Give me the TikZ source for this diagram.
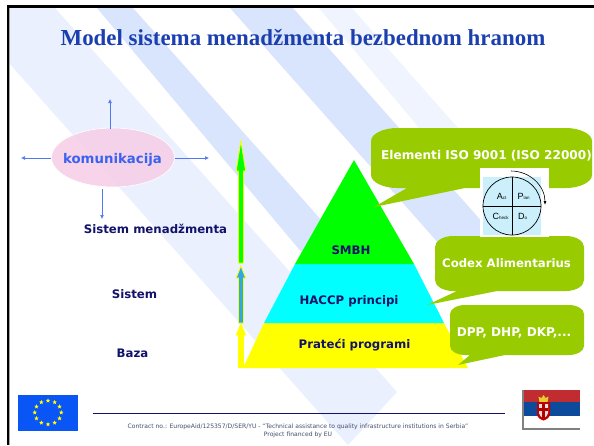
\documentclass[tikz,border=0pt]{standalone}
\usepackage{fontspec}
\setmainfont{Liberation Serif}
\newfontfamily\vfont{DejaVu Sans}
\newfontfamily\afont{Liberation Sans}
\usetikzlibrary{shapes.geometric,arrows.meta}
\definecolor{pale}{HTML}{EAF0FD}
\definecolor{paler}{HTML}{F0F4FE}
\definecolor{stripe}{HTML}{D9E5FC}
\definecolor{titleblue}{HTML}{1B3FAF}
\definecolor{navy}{HTML}{12126B}
\definecolor{kblue}{HTML}{3A62F0}
\definecolor{arrowblue}{HTML}{5078F0}
\definecolor{callgreen}{HTML}{99CC00}
\definecolor{pinkfill}{HTML}{F6CDE6}
\definecolor{pgreen}{HTML}{00FF00}
\definecolor{pcyan}{HTML}{00FFFF}
\definecolor{pyellow}{HTML}{FFFF00}
\definecolor{midblue}{HTML}{2FA8E8}
\definecolor{eublue}{HTML}{0A55F5}
\definecolor{srbred}{HTML}{C02C30}
\definecolor{srbblue}{HTML}{0C4B9B}
\definecolor{footgray}{HTML}{44506E}
\newcommand{\fsz}[1]{\fontsize{#1}{#1}\selectfont}
\tikzset{
  navylabel/.style={font=\vfont\bfseries\fsz{11.75},text=navy,inner sep=0pt},
  calltext/.style={font=\vfont\bfseries\fsz{12.1},text=white,inner sep=0pt},
  callshape/.style={fill=callgreen},
  commarrow/.style={draw=arrowblue,line width=0.7pt,-{Latex[length=4pt,width=4pt]}},
  pdcabig/.style={font=\afont\fsz{9},text=black,inner sep=0pt},
  eustar/.style={star,star points=5,star point ratio=2.2,fill=pyellow,inner sep=0pt,minimum size=4.6pt},
  upoutline/.style={draw=pyellow,line width=0.8pt,line join=miter},
  footnote/.style={font=\vfont\fsz{6.05},text=footgray,inner sep=0pt},
}
\newcommand{\sm}[1]{{\fsz{4.5}#1}}
\begin{document}
\begin{tikzpicture}[x=1pt,y=-1pt]
\useasboundingbox (0,0) rectangle (594,445);
\fill[white] (0,0) rectangle (594,445);
% stripes
\fill[pale] (9,8) -- (55,8) -- (397,392) -- (348,445) -- (9,63) -- cycle;
\fill[stripe] (97,8) -- (133,8) -- (410,320) -- (375,340) -- cycle;
\fill[stripe] (230,8) -- (293,8) -- (530,276) -- (480,290) -- cycle;
\fill[paler] (319,8) -- (352,8) -- (480,153) -- (440,153) -- cycle;
% frame
\fill[black] (7,5) rectangle (594,7.6);
\fill[black] (7,5) rectangle (9,445);
\fill[gray!70] (9,7.6) rectangle (9.8,445);
% title
\node[font=\bfseries\fsz{22.9},text=titleblue,inner sep=0pt] (title) at (303,37.5) {Model sistema menadžmenta bezbednom hranom};
% communication
\node[ellipse,draw=white,line width=0.6pt,fill=pinkfill,fill opacity=0.85,minimum width=123pt,minimum height=59pt,inner sep=0pt] (kom) at (113,157.5) {};
\node[font=\vfont\bfseries\fsz{13.3},text=kblue,inner sep=0pt] (komtext) at (112.5,159.5) {komunikacija};
\coordinate (upA) at (110,128.5);
\coordinate (upB) at (110,99);
\coordinate (dnA) at (102,189);
\coordinate (dnB) at (102,219);
\coordinate (ltB) at (21,158);
\coordinate (rtB) at (209,158);
\draw[commarrow] (upA) -- (upB);
\draw[commarrow] (dnA) -- (dnB);
\draw[commarrow] (kom.west |- ltB) -- (ltB);
\draw[commarrow] (kom.east |- rtB) -- (rtB);
% left labels
\node[navylabel] (lblA) at (155.5,229) {Sistem menadžmenta};
\node[navylabel] (lblB) at (134.5,294) {Sistem};
\node[navylabel] (lblC) at (132.5,353) {Baza};
% stacked arrows
\filldraw[fill=pgreen,upoutline] (240.9,141) -- (245.6,171) -- (243.4,171) -- (243.4,263) -- (238.4,263) -- (238.4,171) -- (236.2,171) -- cycle;
\filldraw[fill=midblue,upoutline] (240.9,266) -- (245.6,278) -- (243.4,278) -- (243.4,323) -- (238.4,323) -- (238.4,278) -- (236.2,278) -- cycle;
\filldraw[fill=pyellow,upoutline] (240.9,324) -- (245.6,335) -- (243.4,335) -- (243.4,367.5) -- (238.4,367.5) -- (238.4,335) -- (236.2,335) -- cycle;
% pyramid
\fill[pyellow] (264,323) -- (444,323) -- (468,368) -- (243,368) -- cycle;
\fill[pcyan] (295,264) -- (414,264) -- (444,323) -- (264,323) -- cycle;
\fill[pgreen] (354,160) -- (414,264) -- (295,264) -- cycle;
\node[navylabel] (smbh) at (351,250) {SMBH};
\node[navylabel] (haccp) at (349,301) {HACCP principi};
\node[navylabel] (prat) at (354.5,345) {Prateći programi};
% callouts
\fill[callshape] (371,141) .. controls (371,134) and (383,128) .. (397,128) -- (566,128) .. controls (580,128) and (592,134) .. (592,141) -- (592,175) .. controls (592,182) and (580,188) .. (566,188) -- (465,188) -- (374,207) -- (407,188) -- (397,188) .. controls (383,188) and (371,182) .. (371,175) -- cycle;
\node[calltext] (c1) at (486.5,156) {Elementi ISO 9001 (ISO 22000)};
\fill[callshape] (435,247) .. controls (435,241) and (443,236) .. (453,236) -- (566,236) .. controls (576,236) and (584,241) .. (584,247) -- (584,280) .. controls (584,286) and (576,291) .. (566,291) -- (497,291) -- (427,305) -- (457,291) -- (453,291) .. controls (443,291) and (435,286) .. (435,280) -- cycle;
\node[calltext,font=\vfont\bfseries\fsz{11.7}] (c2) at (506.5,263) {Codex Alimentarius};
\fill[callshape] (450,314) .. controls (450,309) and (457,305) .. (465,305) -- (569,305) .. controls (577,305) and (584,309) .. (584,314) -- (584,346) .. controls (584,351) and (577,355) .. (569,355) -- (505,355) -- (458,365) -- (470,355) -- (465,355) .. controls (457,355) and (450,351) .. (450,346) -- cycle;
\node[calltext] (c3) at (514,332.5) {DPP, DHP, DKP,...};
% PDCA
\fill[white] (480,168) rectangle (549,237);
\fill[cyan!20] (483,177) rectangle (541,235);
\node[circle,draw=black,line width=0.7pt,minimum size=58pt,inner sep=0pt] (pdca) at (512,206) {};
\draw[black,line width=0.7pt] (pdca.north) -- (pdca.south);
\draw[black,line width=0.7pt] (pdca.west) -- (pdca.east);
\coordinate (cycA) at (511,171);
\coordinate (cycB) at (545,205);
\draw[black,line width=0.6pt,-{Latex[length=4pt,width=3pt]}] (cycA) .. controls (530,171) and (545,186) .. (cycB);
\node[pdcabig] (act) at (501.5,196) {A\sm{ct}};
\node[pdcabig] (plan) at (523.5,196) {P\sm{lan}};
\node[pdcabig] (check) at (500.5,216) {C\sm{heck}};
\node[pdcabig] (do) at (522.5,216) {D\sm{o}};
% footer
\coordinate (ruleA) at (93,413);
\coordinate (ruleB) at (505,413);
\draw[navy,line width=0.8pt] (ruleA) -- (ruleB);
\node[footnote] (foot1) at (298,427) {Contract no.: EuropeAid/125357/D/SER/YU - “Technical assistance to quality infrastructure institutions in Serbia”};
\node[footnote] (foot2) at (298,435) {Project financed by EU};
% EU flag
\fill[eublue] (18,395) rectangle (78,431);
\foreach \a in {0,30,...,330}{
  \node[eustar] (eu\a) at ({48+13.3*cos(\a)},{412.5+11.8*sin(\a)}) {};
}
% Serbian flag
\fill[white] (522,390) rectangle (580,430);
\fill[srbred] (522,390) rectangle (580,402);
\fill[srbblue] (522,402) rectangle (580,416);
\fill[black!50] (522,390) rectangle (523.5,430);
\fill[black!50] (522,428.3) rectangle (580,430);
\fill[yellow!60!brown] (539.5,402) -- (538.5,396.5) -- (541.5,398) -- (543.5,395) -- (545.5,398) -- (548.5,396.5) -- (547.5,402) -- cycle;
\fill[red!75!black] (537,402) -- (550,402) -- (550,414) .. controls (550,418) and (546,419.5) .. (543.5,420.5) .. controls (541,419.5) and (537,418) .. (537,414) -- cycle;
\fill[black!12] (539,404) -- (548,404) -- (548,413) .. controls (548,416) and (545,417.5) .. (543.5,418) .. controls (542,417.5) and (539,416) .. (539,413) -- cycle;
\fill[red!70!black] (542.2,404) rectangle (544.8,418);
\fill[red!70!black] (539,408) rectangle (548,410.5);
\end{tikzpicture}
\end{document}
